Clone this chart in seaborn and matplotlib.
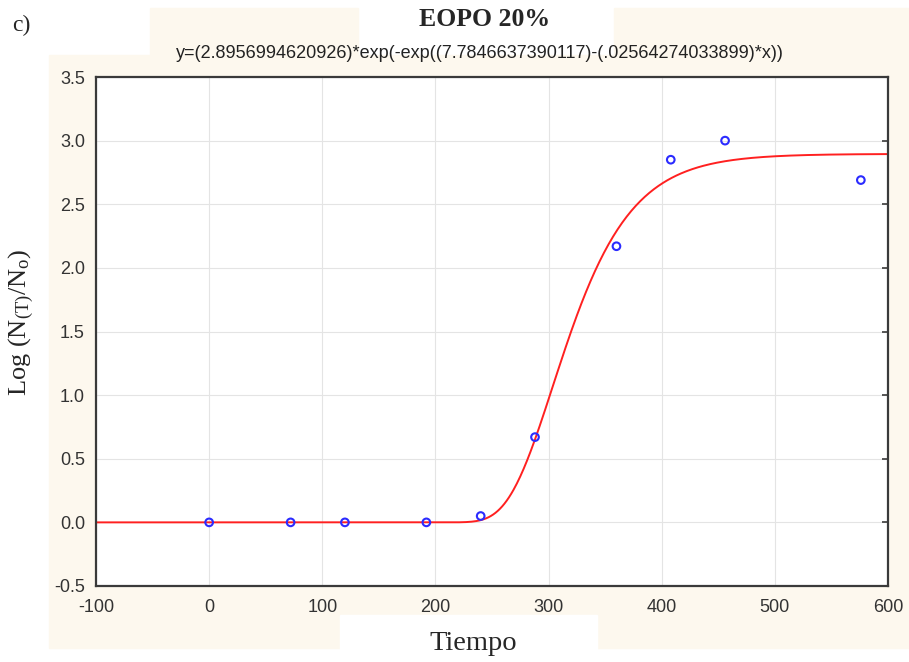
import numpy as np
import pandas as pd
import matplotlib
matplotlib.use("Agg")
import matplotlib.pyplot as plt
from matplotlib.patches import Rectangle
import seaborn as sns

# observed points
tiempo = [0, 72, 120, 192, 240, 288, 360, 408, 456, 576]
log_ratio = [0.0, 0.0, 0.0, 0.0, 0.05, 0.67, 2.17, 2.85, 3.0, 2.69]

# Gompertz fit parameters, as printed over the plot
a_fit = 2.8956994620926
b_fit = 7.7846637390117
c_fit = 0.02564274033899

x_ticks = [-100, 0, 100, 200, 300, 400, 500, 600]
y_ticks = [-0.5, 0.0, 0.5, 1.0, 1.5, 2.0, 2.5, 3.0, 3.5]

sns.set_style("whitegrid", {"grid.color": "#e4e4e4", "axes.edgecolor": "#404040"})
plt.rcParams["font.family"] = ["Liberation Sans", "DejaVu Sans"]
plt.rcParams["mathtext.default"] = "regular"

fig = plt.figure(figsize=(9.09, 6.62), dpi=100)
W, H = 909, 662

# cream background blocks behind the plot
cream = "#fdf8ee"
def block(x0, y0, x1, y1, color=cream):
    fig.patches.append(Rectangle((x0 / W, 1 - y1 / H), (x1 - x0) / W, (y1 - y0) / H,
                                 transform=fig.transFigure, color=color, zorder=-10))
block(49, 55, 909, 648)
block(150, 8, 358, 55)
block(614, 8, 909, 55)
block(340, 615, 597, 662, "white")

ax = fig.add_axes([96 / W, 1 - 586 / H, (888 - 96) / W, (586 - 77) / H])

# fitted curve
xs = np.linspace(-100, 600, 701)
curve = pd.DataFrame({"x": xs, "y": a_fit * np.exp(-np.exp(b_fit - c_fit * xs))})
sns.lineplot(data=curve, x="x", y="y", color="#ff2020", linewidth=1.4, ax=ax)

df = pd.DataFrame({"Tiempo": tiempo, "Log": log_ratio})
sns.scatterplot(data=df, x="Tiempo", y="Log", ax=ax, marker="o", s=30,
                facecolor="none", edgecolor="#2b2bff", linewidth=1.5, zorder=5)

ax.set_xlim(-100, 600)
ax.set_ylim(-0.5, 3.5)
ax.set_xticks(x_ticks)
ax.set_yticks(y_ticks)
ax.set_xticklabels([str(t) for t in x_ticks])
ax.set_yticklabels([f"{t:.1f}" for t in y_ticks])
ax.tick_params(axis="both", labelsize=13, colors="#333333", direction="in",
               length=4, width=1.2, color="#3a3a3a", right=True)
ax.tick_params(axis="x", pad=9)
ax.tick_params(axis="y", pad=8)
for s in ax.spines.values():
    s.set_linewidth(1.6)
    s.set_color("#3a3a3a")

ax.set_xlabel("Tiempo", family=["Liberation Serif"], fontsize=20.5)
ax.xaxis.set_label_coords((473 - 96) / 792, -(644 - 586) / 509)
ax.xaxis.label.set_va("center")
ax.set_ylabel("Log (N$_{(T)}$/N$_o$)", family=["Liberation Serif"], fontsize=19)
ax.yaxis.set_label_coords(-(96 - 21) / 792, (586 - 322) / 509)
ax.yaxis.label.set_va("center")

fig.text(485 / W, 1 - 20 / H, "EOPO 20%", ha="center", va="center",
         family=["Liberation Serif"], fontsize=18.5, fontweight="bold")
fig.text(480 / W, 1 - 53 / H,
         f"y=({a_fit})*exp(-exp(({b_fit})-(.{str(c_fit).split('.')[1]})*x))",
         ha="center", va="center", fontsize=13, color="#222222")
fig.text(12 / W, 1 - 25 / H, "c)", ha="left", va="center",
         family=["Liberation Serif"], fontsize=17)

fig.savefig("out.png", dpi=100)
